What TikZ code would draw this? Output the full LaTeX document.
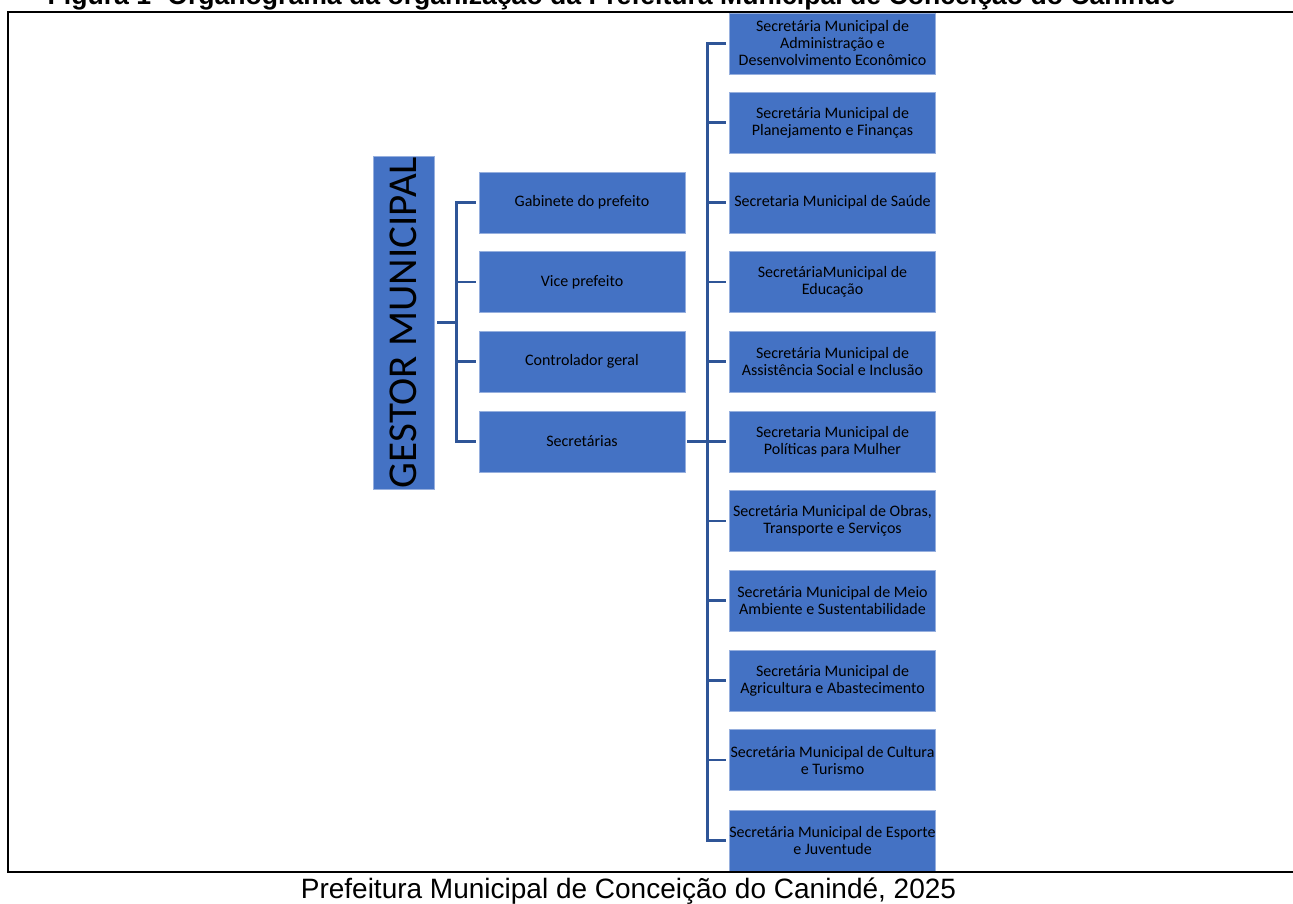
\documentclass[tikz,border=0pt]{standalone}
\usepackage{fontspec}
\setmainfont{Liberation Sans}
\newfontfamily\calib{Carlito}
\definecolor{boxblue}{RGB}{68,114,196}
\definecolor{boxedge}{RGB}{150,175,222}
\definecolor{lineblue}{RGB}{47,85,151}
\begin{document}
\begin{tikzpicture}[x=1pt,y=-1pt,
  box/.style={fill=boxblue, draw=boxedge, line width=0.6pt, minimum width=206pt, minimum height=61pt, inner sep=0pt, align=center, font=\calib\fontsize{16}{17}\selectfont, text=black},
  mbox/.style={box, font=\calib\fontsize{16}{17}\selectfont},
  gbox/.style={fill=boxblue, draw=boxedge, line width=0.6pt, minimum width=61pt, minimum height=333pt, inner sep=0pt, font=\calib\fontsize{41}{43}\selectfont, text=black},
  conn/.style={draw=lineblue, line width=2.5pt}]
\useasboundingbox (0,0) rectangle (1293,904);
% title (cut off at the top)
\node[font=\bfseries\fontsize{26.6}{30}\selectfont, anchor=base, inner sep=0pt] (title) at (611.5,5) {Figura 1- Organograma da organização da Prefeitura Municipal de Conceição do Canindé};
% gestor
\node[gbox] (gm) at (403.5,322.5) {\rotatebox{90}{GESTOR MUNICIPAL}};
% middle column
\node[mbox] (m1) at (582,202.5) {Gabinete do prefeito};
\node[mbox] (m2) at (582,282) {Vice prefeito};
\node[mbox] (m3) at (582,361.5) {Controlador geral};
\node[mbox] (m4) at (582,441.5) {Secretárias};
% right column
\node[box] (r1) at (832.5,43.5) {Secretária Municipal de\\Administração e\\Desenvolvimento Econômico};
\node[box] (r2) at (832.5,122.5) {Secretária Municipal de\\Planejamento e Finanças};
\node[box] (r3) at (832.5,202.5) {Secretaria Municipal de Saúde};
\node[box] (r4) at (832.5,282) {SecretáriaMunicipal de\\Educação};
\node[box] (r5) at (832.5,361.5) {Secretária Municipal de\\Assistência Social e Inclusão};
\node[box] (r6) at (832.5,441.5) {Secretaria Municipal de\\Políticas para Mulher};
\node[box] (r7) at (832.5,521) {Secretária Municipal de Obras,\\Transporte e Serviços};
\node[box] (r8) at (832.5,600.5) {Secretária Municipal de Meio\\Ambiente e Sustentabilidade};
\node[box] (r9) at (832.5,680.5) {Secretária Municipal de\\Agricultura e Abastecimento};
\node[box] (r10) at (832.5,760) {Secretária Municipal de Cultura\\e Turismo};
\node[box] (r11) at (832.5,840.5) {Secretária Municipal de Esporte\\e Juventude};
% connectors left
\coordinate (j1) at (456.5,322.5);
\draw[conn] ([xshift=3pt]gm.east) -- (j1);
\draw[conn] ([xshift=-3pt]m1.west) -| (j1 |- m4.west) -- ([xshift=-3pt]m4.west);
\draw[conn] (j1 |- m2.west) -- ([xshift=-3pt]m2.west);
\draw[conn] (j1 |- m3.west) -- ([xshift=-3pt]m3.west);
% connectors right
\coordinate (j2) at (707.5,441.5);
\draw[conn] ([xshift=2pt]m4.east) -- (j2);
\draw[conn] ([xshift=-3pt]r1.west) -| (j2 |- r11.west) -- ([xshift=-3pt]r11.west);
\foreach \i in {2,...,10} {\draw[conn] (j2 |- r\i.west) -- ([xshift=-3pt]r\i.west);}
% frame
\draw[line width=2.2pt] (1310,12) -- (8,12) -- (8,872) -- (1310,872);
% caption
\node[font=\fontsize{28}{32}\selectfont, anchor=base, inner sep=0pt] (cap) at (628.5,898) {Prefeitura Municipal de Conceição do Canindé, 2025};
\end{tikzpicture}
\end{document}
